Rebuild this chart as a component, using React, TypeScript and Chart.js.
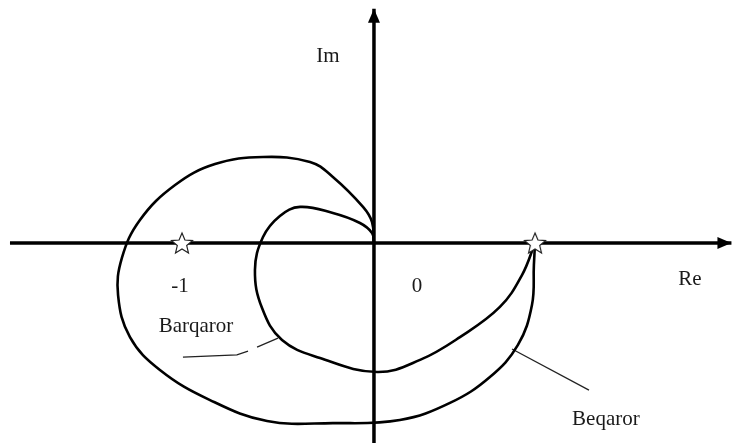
import React, { useEffect, useRef } from "react";
import { Chart, registerables } from "chart.js";

Chart.register(...registerables);

// Nyquist-style curves (Re, Im) in units where the critical point is -1
const outerRe = [0, -0.010, -0.057, -0.214, -0.333, -0.578, -0.828, -1.036, -1.219, -1.313, -1.333, -1.271, -1.115, -0.854, -0.557, -0.214, 0.135, 0.396, 0.604, 0.750, 0.823, 0.833, 0.839];
const outerIm = [0, 0.109, 0.188, 0.344, 0.422, 0.448, 0.411, 0.302, 0.120, -0.078, -0.271, -0.490, -0.661, -0.818, -0.927, -0.938, -0.922, -0.833, -0.698, -0.531, -0.323, -0.115, 0];

const innerRe = [0, -0.010, -0.073, -0.214, -0.385, -0.490, -0.578, -0.620, -0.583, -0.479, -0.281, 0.016, 0.240, 0.448, 0.656, 0.771, 0.839];
const innerIm = [0, 0.052, 0.104, 0.156, 0.188, 0.141, 0.031, -0.141, -0.339, -0.505, -0.599, -0.672, -0.609, -0.490, -0.333, -0.167, 0];

// axes
const reAxisX = [-1.896, 1.862];
const imAxisY = [1.22, -1.045];

// star markers on the real axis
const markerRe = [-1, 0.839];

// leader lines
const barqarorLeaderRe = [-0.995, -0.714, -0.656];
const barqarorLeaderIm = [-0.594, -0.583, -0.563];
const barqarorLeader2Re = [-0.609, -0.5];
const barqarorLeader2Im = [-0.542, -0.495];
const beqarorLeaderRe = [0.719, 1.12];
const beqarorLeaderIm = [-0.552, -0.766];

// text labels
const labelTexts = ["Im", "Re", "0", "-1", "Barqaror", "Beqaror"];
const labelRe = [-0.240, 1.646, 0.224, -1.010, -0.927, 1.208];
const labelIm = [0.943, -0.219, -0.255, -0.255, -0.464, -0.948];

const X_MIN = -1.948;
const X_MAX = 1.865;
const Y_MIN = -1.0417;
const Y_MAX = 1.2656;

function zip(xs: number[], ys: number[]) {
  return xs.map((x, i) => ({ x, y: ys[i] }));
}

function makeStar(r: number): HTMLCanvasElement {
  const size = Math.ceil(r * 2 + 4);
  const c = document.createElement("canvas");
  c.width = size;
  c.height = size;
  const ctx = c.getContext("2d")!;
  const cx = size / 2;
  const cy = size / 2 + 1;
  ctx.beginPath();
  for (let i = 0; i < 10; i++) {
    const rad = i % 2 === 0 ? r : r * 0.45;
    const a = -Math.PI / 2 + (i * Math.PI) / 5;
    const px = cx + rad * Math.cos(a);
    const py = cy + rad * Math.sin(a);
    if (i === 0) ctx.moveTo(px, py);
    else ctx.lineTo(px, py);
  }
  ctx.closePath();
  ctx.fillStyle = "#ffffff";
  ctx.fill();
  ctx.lineWidth = 1.2;
  ctx.strokeStyle = "#222";
  ctx.stroke();
  return c;
}

const overlayPlugin = {
  id: "overlay",
  afterDatasetsDraw(chart: any) {
    const { ctx, scales } = chart;
    const xs = scales.x;
    const ys = scales.y;
    ctx.save();
    ctx.fillStyle = "#000";
    // arrowheads
    const ax = xs.getPixelForValue(reAxisX[1]);
    const ay = ys.getPixelForValue(0);
    ctx.beginPath();
    ctx.moveTo(ax, ay);
    ctx.lineTo(ax - 14, ay - 6);
    ctx.lineTo(ax - 14, ay + 6);
    ctx.closePath();
    ctx.fill();
    const vx = xs.getPixelForValue(0);
    const vy = ys.getPixelForValue(imAxisY[0]);
    ctx.beginPath();
    ctx.moveTo(vx, vy);
    ctx.lineTo(vx - 6, vy + 14);
    ctx.lineTo(vx + 6, vy + 14);
    ctx.closePath();
    ctx.fill();
    // labels
    ctx.fillStyle = "#1a1a1a";
    ctx.font = '21px "Liberation Serif", "Times New Roman", serif';
    ctx.textAlign = "center";
    ctx.textBaseline = "alphabetic";
    labelTexts.forEach((t, i) => {
      ctx.fillText(t, xs.getPixelForValue(labelRe[i]), ys.getPixelForValue(labelIm[i]));
    });
    ctx.restore();
  },
};

export default function App() {
  const ref = useRef<HTMLCanvasElement | null>(null);
  useEffect(() => {
    if (!ref.current) return;
    const star = makeStar(11);
    const thin = (xs: number[], ys: number[]) => ({
      data: zip(xs, ys),
      showLine: true,
      borderColor: "#222",
      borderWidth: 1.3,
      pointRadius: 0,
      tension: 0,
    });
    const chart = new Chart(ref.current, {
      type: "scatter",
      data: {
        datasets: [
          {
            data: markerRe.map((x) => ({ x, y: 0 })),
            pointStyle: star as any,
            showLine: false,
            pointRadius: 11,
          },
          {
            data: zip(outerRe, outerIm),
            showLine: true,
            borderColor: "#000",
            borderWidth: 2.6,
            pointRadius: 0,
            tension: 0.4,
          },
          {
            data: zip(innerRe, innerIm),
            showLine: true,
            borderColor: "#000",
            borderWidth: 2.6,
            pointRadius: 0,
            tension: 0.4,
          },
          thin(barqarorLeaderRe, barqarorLeaderIm),
          thin(barqarorLeader2Re, barqarorLeader2Im),
          thin(beqarorLeaderRe, beqarorLeaderIm),
          {
            data: reAxisX.map((x) => ({ x, y: 0 })),
            showLine: true,
            borderColor: "#000",
            borderWidth: 3.5,
            pointRadius: 0,
          },
          {
            data: imAxisY.map((y) => ({ x: 0, y })),
            showLine: true,
            borderColor: "#000",
            borderWidth: 3.5,
            pointRadius: 0,
          },
        ] as any,
      },
      options: {
        animation: false,
        responsive: false,
        layout: { padding: 0, autoPadding: false } as any,
        plugins: { legend: { display: false }, tooltip: { enabled: false } },
        elements: { line: { capBezierPoints: false } },
        datasets: { scatter: { clip: false } } as any,
        scales: {
          x: { type: "linear", min: X_MIN, max: X_MAX, display: false },
          y: { type: "linear", min: Y_MIN, max: Y_MAX, display: false },
        },
      },
      plugins: [overlayPlugin],
    });
    return () => chart.destroy();
  }, []);
  return (
    <div style={{ position: "absolute", left: 0, top: 0, width: 732, height: 443, background: "#fff" }}>
      <canvas ref={ref} width={732} height={443} />
    </div>
  );
}
